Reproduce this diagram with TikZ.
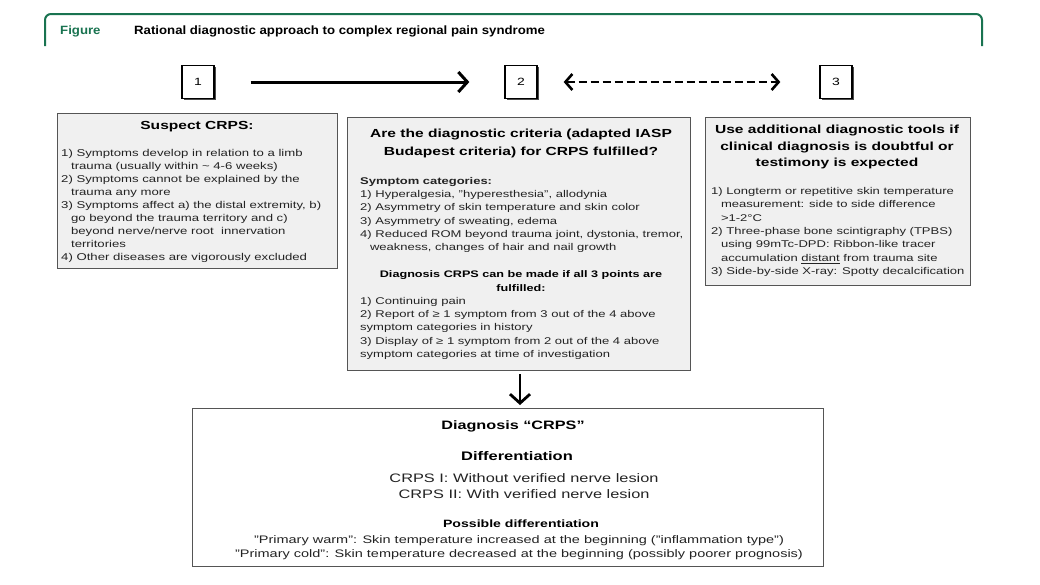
\documentclass[tikz,border=0pt]{standalone}
\usepackage{fontspec}
\setmainfont{Liberation Sans}[FakeStretch=1.33]
\newfontfamily\hdrfont{Liberation Sans}[FakeStretch=1.1]
\usetikzlibrary{arrows.meta}
\definecolor{frameg}{RGB}{25,115,80}
\definecolor{boxfill}{RGB}{240,240,240}
\definecolor{boxline}{RGB}{85,85,85}
\definecolor{txt}{RGB}{35,35,35}
\begin{document}
\begin{tikzpicture}[x=1pt,y=-1pt,
  panel/.style={draw=boxline, line width=1.3pt, fill=boxfill, anchor=north west, inner sep=0pt},
  numbox/.style={draw=black, line width=1.3pt, fill=white, minimum width=32pt, minimum height=33pt, inner sep=0pt, font=\fontsize{10.5}{12}\selectfont},
  body/.style={font=\fontsize{9.8}{13.4}\selectfont, align=left, inner sep=0pt, anchor=north west, text=txt},
  ttl/.style={font=\bfseries\fontsize{11.6}{17}\selectfont, align=center, inner sep=0pt, anchor=north, text=black},
  bigarrow/.style={line width=3pt, -{Straight Barb[length=9pt,width=20pt]}},
  dasharrow/.style={line width=2.6pt, dash pattern=on 8pt off 4pt, {Straight Barb[length=7pt,width=16pt]}-{Straight Barb[length=7pt,width=16pt]}}
]
\useasboundingbox[fill=white] (0,0) rectangle (1040,584);

% header frame
\draw[frameg, line width=2pt, rounded corners=6pt] (45,46) -- (45,14) -- (982,14) -- (982,46);
\node[anchor=west, inner sep=0pt, text=frameg, font=\hdrfont\bfseries\fontsize{12}{14}\selectfont] (fig) at (60,31) {Figure};
\node[anchor=west, inner sep=0pt, font=\hdrfont\bfseries\fontsize{12}{14}\selectfont] (cap) at (134,31) {Rational diagnostic approach to complex regional pain syndrome};

% number boxes (with shadow)
\fill[black!70] (184,67) rectangle (216,100);
\fill[black!70] (507,67) rectangle (539,100);
\fill[black!70] (822,67) rectangle (854,100);
\node[numbox] (n1) at (198,82) {1};
\node[numbox] (n2) at (521,82) {2};
\node[numbox] (n3) at (836,82) {3};
\draw[bigarrow, shorten <=36pt, shorten >=35pt] (n1.east) -- (n2.west);
\draw[dasharrow, shorten <=26pt, shorten >=39pt] (n2.east) -- (n3.west);

% left panel
\node[panel, minimum width=280pt, minimum height=155pt] (p1) at (57,113) {};
\node[ttl, font=\bfseries\fontsize{11.7}{14}\selectfont] (t1) at (197,121) {Suspect CRPS:};
\node[body, font=\fontsize{9.9}{13}\selectfont] (b1) at (61,149) {1) Symptoms develop in relation to a limb\\
\hspace*{1.0em}trauma (usually within \textasciitilde{} 4-6 weeks)\\
2) Symptoms cannot be explained by the\\
\hspace*{1.0em}trauma any more\\
3) Symptoms affect a) the distal extremity, b)\\
\hspace*{1.0em}go beyond the trauma territory and c)\\
\hspace*{1.0em}beyond nerve/nerve root\ \ innervation\\
\hspace*{1.0em}territories\\
4) Other diseases are vigorously excluded};

% middle panel
\node[panel, minimum width=343pt, minimum height=253pt] (p2) at (347,117) {};
\node[ttl, font=\bfseries\fontsize{11.7}{18}\selectfont] (t2) at (521,129) {Are the diagnostic criteria (adapted IASP\\Budapest criteria) for CRPS fulfilled?};
\node[body, font=\bfseries\fontsize{9.75}{13}\selectfont] (h2) at (360,177) {Symptom categories:};
\node[body] (b2) at (360,190) {1) Hyperalgesia, "hyperesthesia", allodynia\\
2) Asymmetry of skin temperature and skin color\\
3) Asymmetry of sweating, edema\\
4) Reduced ROM beyond trauma joint, dystonia, tremor,\\
\hspace*{1.0em}weakness, changes of hair and nail growth};
\node[ttl, font=\bfseries\fontsize{9.5}{14}\selectfont] (t2b) at (521,270) {Diagnosis CRPS can be made if all 3 points are\\fulfilled:};
\node[body, font=\fontsize{9.8}{13.3}\selectfont] (b2b) at (360,297) {1) Continuing pain\\
2) Report of ≥ 1 symptom from 3 out of the 4 above\\
symptom categories in history\\
3) Display of ≥ 1 symptom from 2 out of the 4 above\\
symptom categories at time of investigation};

% right panel
\node[panel, minimum width=265pt, minimum height=168pt] (p3) at (705,117) {};
\node[ttl, font=\bfseries\fontsize{11.7}{16.5}\selectfont] (t3) at (837,125) {Use additional diagnostic tools if\\clinical diagnosis is doubtful or\\testimony is expected};
\node[body] (b3) at (711,187) {1) Longterm or repetitive skin temperature\\
\hspace*{1.0em}measurement: side to side difference\\
\hspace*{1.0em}>1-2°C\\
2) Three-phase bone scintigraphy (TPBS)\\
\hspace*{1.0em}using 99mTc-DPD: Ribbon-like tracer\\
\hspace*{1.0em}accumulation \underline{distant} from trauma site\\
3) Side-by-side X-ray: Spotty decalcification};

% bottom panel
\node[panel, fill=white, minimum width=631pt, minimum height=158pt] (p4) at (192,408) {};
\node[ttl, font=\bfseries\fontsize{12.2}{15}\selectfont] (t4) at (513,420) {Diagnosis “CRPS”};
\node[ttl, font=\bfseries\fontsize{12.4}{15}\selectfont] (t4b) at (517,451) {Differentiation};
\node[ttl, font=\fontsize{12.3}{16}\selectfont, text=txt] (b4) at (524,473) {CRPS I: Without verified nerve lesion\\CRPS II: With verified nerve lesion};
\node[ttl, font=\bfseries\fontsize{10.6}{14}\selectfont] (t4c) at (521,520) {Possible differentiation};
\node[ttl, font=\fontsize{10.9}{14}\selectfont, text=txt] (b4b) at (519,535) {"Primary warm": Skin temperature increased at the beginning ("inflammation type")\\
"Primary cold": Skin temperature decreased at the beginning (possibly poorer prognosis)};

\draw[bigarrow, line width=2.8pt, shorten <=3pt, shorten >=3pt] (p2.south -| 520,0) -- (p4.north -| 520,0);
\end{tikzpicture}
\end{document}
